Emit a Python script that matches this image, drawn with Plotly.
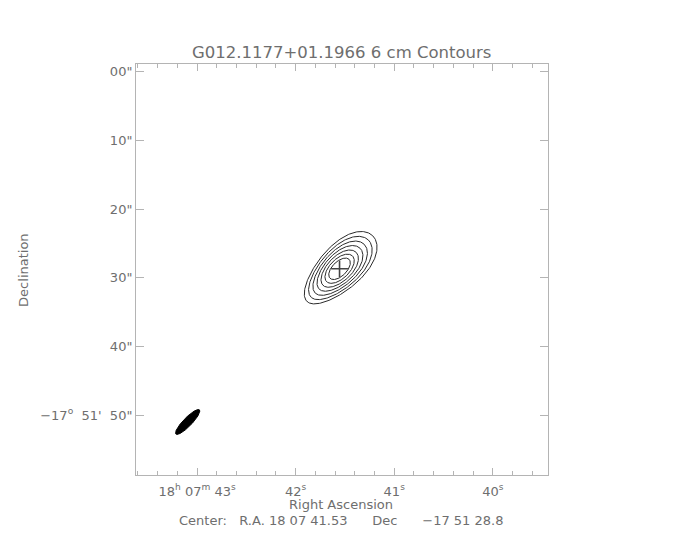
import numpy as np
import plotly.graph_objects as go

# ---------------- data ----------------
title_text = "G012.1177+01.1966 6 cm Contours"
x_title = "Right Ascension"
y_title = "Declination"
SP = "\u00a0"
center_text = ("Center:" + SP * 3 + "R.A. 18 07 41.53" + SP * 6 + "Dec" + SP * 6
               + "\u221217 51 28.8")

# RA axis: seconds of 18h07m ; Dec axis: arcsec below -17d51'00"
ra_tick_vals = [43, 42, 41, 40]
ra_tick_text = ["18<sup>h</sup> 07<sup>m</sup> 43<sup>s</sup>", "42<sup>s</sup>",
                "41<sup>s</sup>", "40<sup>s</sup>"]
dec_tick_vals = [0, 10, 20, 30, 40, 50]
dec_tick_text = ['00"', '10"', '20"', '30"', '40"',
                 "\u221217<sup>o</sup>\u00a0\u00a051'\u00a0\u00a050\""]

ra_range = [43.62, 39.44]
dec_range = [58.72, -1.12]

# source peak (cross)
peak_ra_s = 41.555
peak_dec_off = 28.7

# contour levels (outer -> inner): semi-axes in arcsec, shift along the major
# axis (arcsec, towards upper right) and end-broadening factor
contour_semi_major = [6.75, 5.88, 5.02, 4.20, 3.40, 2.65, 1.95]
contour_semi_minor = [3.15, 2.80, 2.45, 2.12, 1.78, 1.42, 1.05]
contour_shift = [0.05, 0.04, 0.03, 0.02, 0.0, 0.0, 0.0]
contour_egg = [0.15, 0.12, 0.10, 0.08, 0.05, 0.02, 0.0]
contour_tilt_deg = 45.0

# synthesized beam (filled ellipse, lower left)
beam_ra_s = 43.096
beam_dec_off = 51.0
beam_semi_major = 2.45
beam_semi_minor = 0.62
beam_tilt_deg = 46.0

DEC_DEG = 17.864
ARCSEC_PER_RA_S = 15.0 * np.cos(np.radians(DEC_DEG))

TEXT_COLOR = "#6e6e6e"
FRAME_COLOR = "#b4b4b4"
FONT = "DejaVu Sans"


def ellipse(ra0, dec0, a, b, tilt_deg, shift=0.0, egg=0.0, n=241):
    t = np.linspace(0, 2 * np.pi, n)
    th = np.radians(tilt_deg)
    u = a * np.cos(t) + shift
    v = b * np.sin(t) * (1 + egg * np.cos(t))
    # screen-like frame: x to the right (west), y up (north)
    xs = u * np.cos(th) - v * np.sin(th)
    ys = u * np.sin(th) + v * np.cos(th)
    ra = ra0 - xs / ARCSEC_PER_RA_S
    dec = dec0 - ys
    return ra, dec


fig = go.Figure()

for a, b, s, e in zip(contour_semi_major, contour_semi_minor, contour_shift, contour_egg):
    ra, dec = ellipse(peak_ra_s, peak_dec_off, a, b, contour_tilt_deg, s, e)
    fig.add_trace(go.Scatter(x=ra, y=dec, mode="lines",
                             line=dict(color="#2a2a2a", width=1),
                             hoverinfo="skip", showlegend=False))

bra, bdec = ellipse(beam_ra_s, beam_dec_off, beam_semi_major, beam_semi_minor, beam_tilt_deg)
fig.add_trace(go.Scatter(x=bra, y=bdec, mode="lines", fill="toself",
                         fillcolor="black", line=dict(color="black", width=1),
                         hoverinfo="skip", showlegend=False))

fig.add_trace(go.Scatter(x=[peak_ra_s], y=[peak_dec_off], mode="markers",
                         marker=dict(symbol="cross-thin", size=12,
                                     line=dict(color="#444444", width=1.6)),
                         hoverinfo="skip", showlegend=False))

axis_common = dict(
    showgrid=False, zeroline=False, showline=True, linecolor=FRAME_COLOR,
    linewidth=1, mirror="ticks", ticks="inside", tickcolor=FRAME_COLOR,
    tickwidth=1, automargin=False,
    tickfont=dict(family=FONT, size=13, color=TEXT_COLOR),
)

fig.update_xaxes(range=ra_range, tickmode="array", tickvals=ra_tick_vals,
                 ticktext=ra_tick_text, ticklen=7, ticklabelstandoff=4,
                 minor=dict(tickmode="linear", tick0=0, dtick=0.2,
                            ticks="inside", ticklen=4, tickcolor=FRAME_COLOR,
                            tickwidth=1, showgrid=False),
                 **axis_common)
fig.update_yaxes(range=dec_range, tickmode="array", tickvals=dec_tick_vals,
                 ticktext=dec_tick_text, ticklen=8, **axis_common)

# the page body adds an 8px offset; figure is sized so it fits the window
OFF = 8
W, H = 684 - OFF, 540 - OFF
PL, PT = 128, 56
PR = W - 540.5
PB = H - 467.5
PH = H - PT - PB
PW = W - PL - PR


def py(ypx):  # page pixel -> paper
    return (H - PB - (ypx - OFF)) / PH


def px(xpx):
    return (xpx - OFF - PL) / PW


annos = [
    dict(text=title_text, x=px(342), y=py(52.5), font=dict(family=FONT, size=16.5, color=TEXT_COLOR)),
    dict(text=x_title, x=px(341.7), y=py(505.5), font=dict(family=FONT, size=13, color=TEXT_COLOR)),
    dict(text=center_text, x=px(341.5), y=py(521), font=dict(family=FONT, size=13, color=TEXT_COLOR)),
    dict(text=y_title, x=px(24), y=py(270), textangle=-90, font=dict(family=FONT, size=13, color=TEXT_COLOR)),
]
for an in annos:
    an.update(xref="paper", yref="paper", showarrow=False,
              xanchor="center", yanchor="middle")

fig.update_layout(
    width=W, height=H,
    margin=dict(l=PL, r=PR, t=PT, b=PB, autoexpand=False),
    paper_bgcolor="white", plot_bgcolor="white",
    annotations=annos,
    showlegend=False,
)

fig.write_html("out.html")
